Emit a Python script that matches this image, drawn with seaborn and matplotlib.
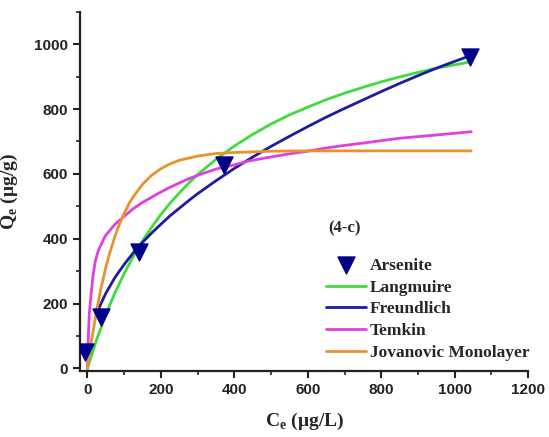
import pandas as pd
import seaborn as sns
import matplotlib.pyplot as plt
from matplotlib.ticker import MultipleLocator

# puntos experimentales (arsenito)
ce_exp = [-8, 37, 139, 372, 1041]
qe_exp = [50, 159, 360, 627, 962]

# curvas de ajuste
ce_lang = [0, 10, 25, 50, 75, 100, 125, 150, 175, 200, 225, 250, 275, 300, 350, 400, 450,
           500, 550, 600, 650, 700, 750, 800, 850, 900, 950, 1045]
qe_lang = [0, 37, 89, 166, 234, 293, 346, 394, 436, 475, 510, 541, 571, 598, 645, 686, 722,
           754, 782, 806, 829, 849, 867, 884, 899, 913, 926, 946]

ce_freu = [25, 35, 50, 75, 100, 125, 150, 175, 200, 225, 250, 275, 300, 350, 400, 450, 500,
           550, 600, 650, 700, 750, 800, 850, 900, 950, 1045]
qe_freu = [168, 196, 232, 281, 321, 357, 389, 418, 445, 471, 494, 517, 539, 579, 617, 652, 685,
           716, 746, 775, 802, 828, 854, 879, 903, 926, 966]

ce_temk = [0, 2, 5, 9, 15, 21, 30, 48, 75, 103, 125, 150, 170, 193, 220, 250, 280, 311, 350,
           400, 440, 483, 540, 600, 650, 701, 750, 850, 950, 1045]
qe_temk = [0, 90, 170, 220, 285, 330, 365, 408, 445, 472, 493, 512, 525, 540, 556, 572, 587,
           600, 615, 628, 640, 649, 660, 670, 680, 688, 695, 710, 720, 730]

ce_jova = [0, 10, 25, 35, 50, 60, 75, 85, 100, 115, 125, 150, 175, 200, 225, 250, 300, 350,
           400, 500, 600, 800, 1045]
qe_jova = [0, 79, 180, 238, 312, 354, 408, 439, 479, 512, 530, 568, 596, 616, 631, 642, 655,
           663, 666, 670, 671, 671, 671]

sns.set_style('ticks')

fig = plt.figure(figsize=(5.49, 4.37), dpi=100)
ax = fig.add_axes([0.146, 0.151, 0.816, 0.822])

sns.lineplot(x=ce_lang, y=qe_lang, color='#3ddc3d', lw=2, label='Langmuire', ax=ax)
sns.lineplot(x=ce_freu, y=qe_freu, color='#1c1c9c', lw=2, label='Freundlich', ax=ax)
sns.lineplot(x=ce_temk, y=qe_temk, color='#e23ee2', lw=2, label='Temkin', ax=ax)
sns.lineplot(x=ce_jova, y=qe_jova, color='#e8922e', lw=2, label='Jovanovic Monolayer', ax=ax)
sns.scatterplot(x=ce_exp, y=qe_exp, marker='v', s=150, color='#00008b',
                edgecolor='#00008b', label='Arsenite', ax=ax, zorder=5)

ax.set_xlim(-20, 1200)
ax.set_ylim(-8, 1100)
ax.xaxis.set_major_locator(MultipleLocator(200))
ax.xaxis.set_minor_locator(MultipleLocator(100))
ax.yaxis.set_major_locator(MultipleLocator(200))
ax.yaxis.set_minor_locator(MultipleLocator(100))
ax.set_yticks([0, 200, 400, 600, 800, 1000])

for s in ['top', 'right']:
    ax.spines[s].set_visible(False)
for s in ['left', 'bottom']:
    ax.spines[s].set_linewidth(1.6)
    ax.spines[s].set_color('#222222')

ax.tick_params(which='major', direction='out', length=5, width=1.5, colors='#222222')
ax.tick_params(which='minor', direction='out', length=3, width=1.2, colors='#222222')
for lab in ax.get_xticklabels() + ax.get_yticklabels():
    lab.set_family('Liberation Sans')
    lab.set_fontweight('bold')
    lab.set_fontsize(11)

ax.set_xlabel(r'C$_\mathregular{e}$ ($\mathregular{\mu}$g/L)', family='Liberation Serif',
              fontweight='bold', fontsize=14, labelpad=10)
ax.set_ylabel(r'Q$_\mathregular{e}$ ($\mathregular{\mu}$g/g)', family='Liberation Serif',
              fontweight='bold', fontsize=14, labelpad=10)

ax.text(700, 433, '(4-c)', family='Liberation Serif', fontweight='bold',
        fontsize=12, ha='center', va='center')

# leyenda con Arsenite primero
h, l = ax.get_legend_handles_labels()
orden = [4, 0, 1, 2, 3]
leg = ax.legend([h[i] for i in orden], [l[i] for i in orden],
                loc='upper left', bbox_to_anchor=(0.594, 0.41),
                bbox_transform=fig.transFigure, frameon=False,
                borderpad=0, borderaxespad=0, handlelength=2.3,
                handletextpad=0.2, labelspacing=0.32,
                prop={'family': 'Liberation Serif', 'weight': 'bold', 'size': 12.5})

fig.savefig('out.png', dpi=100)
